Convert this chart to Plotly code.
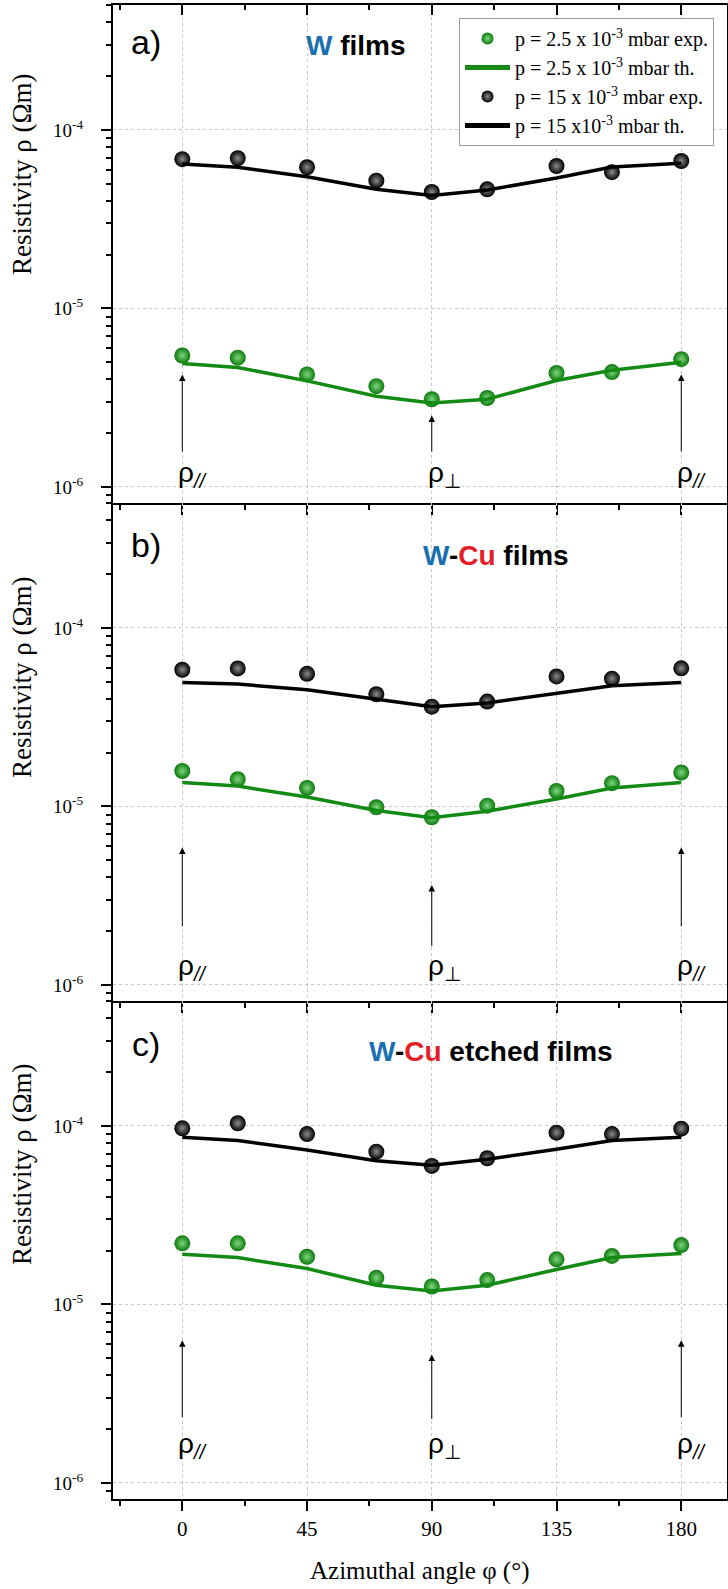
import plotly.graph_objects as go
from plotly.subplots import make_subplots

# ---------------- data ----------------
angles = [0, 20, 45, 70, 90, 110, 135, 155, 180]

a_exp_low  = [5.45e-6, 5.3e-6, 4.27e-6, 3.67e-6, 3.1e-6, 3.15e-6, 4.35e-6, 4.4e-6, 5.2e-6]
a_th_low   = [4.92e-6, 4.67e-6, 3.93e-6, 3.22e-6, 2.95e-6, 3.1e-6, 3.95e-6, 4.5e-6, 5.0e-6]
a_exp_high = [6.86e-5, 6.94e-5, 6.18e-5, 5.2e-5, 4.49e-5, 4.65e-5, 6.28e-5, 5.8e-5, 6.7e-5]
a_th_high  = [6.44e-5, 6.18e-5, 5.47e-5, 4.65e-5, 4.3e-5, 4.61e-5, 5.38e-5, 6.2e-5, 6.5e-5]

b_exp_low  = [1.58e-5, 1.42e-5, 1.27e-5, 9.9e-6, 8.7e-6, 1.01e-5, 1.22e-5, 1.35e-5, 1.55e-5]
b_th_low   = [1.36e-5, 1.30e-5, 1.13e-5, 9.5e-6, 8.65e-6, 9.4e-6, 1.10e-5, 1.27e-5, 1.36e-5]
b_exp_high = [5.83e-5, 5.93e-5, 5.53e-5, 4.25e-5, 3.62e-5, 3.87e-5, 5.35e-5, 5.2e-5, 5.94e-5]
b_th_high  = [4.95e-5, 4.85e-5, 4.5e-5, 4.0e-5, 3.62e-5, 3.8e-5, 4.3e-5, 4.75e-5, 4.95e-5]

c_exp_low  = [2.2e-5, 2.2e-5, 1.85e-5, 1.41e-5, 1.26e-5, 1.37e-5, 1.79e-5, 1.87e-5, 2.15e-5]
c_th_low   = [1.91e-5, 1.83e-5, 1.59e-5, 1.28e-5, 1.19e-5, 1.28e-5, 1.57e-5, 1.83e-5, 1.93e-5]
c_exp_high = [9.7e-5, 1.035e-4, 9.0e-5, 7.18e-5, 5.97e-5, 6.59e-5, 9.17e-5, 9.0e-5, 9.66e-5]
c_th_high  = [8.65e-5, 8.28e-5, 7.33e-5, 6.39e-5, 6.02e-5, 6.5e-5, 7.4e-5, 8.28e-5, 8.65e-5]

panels = [
    (a_exp_low, a_th_low, a_exp_high, a_th_high),
    (b_exp_low, b_th_low, b_exp_high, b_th_high),
    (c_exp_low, c_th_low, c_exp_high, c_th_high),
]
panel_letters = ["a)", "b)", "c)"]
panel_titles = [
    "<b><span style='color:#1a6fb0'>W</span> films</b>",
    "<b><span style='color:#1a6fb0'>W</span>-<span style='color:#e41e26'>Cu</span> films</b>",
    "<b><span style='color:#1a6fb0'>W</span>-<span style='color:#e41e26'>Cu</span> etched films</b>",
]
legend_names = [
    "p = 2.5 x 10<sup>-3</sup> mbar exp.",
    "p = 2.5 x 10<sup>-3</sup> mbar th.",
    "p = 15 x 10<sup>-3</sup> mbar exp.",
    "p = 15 x10<sup>-3</sup> mbar th.",
]
x_ticks = [0, 45, 90, 135, 180]
y_ticks = [1e-6, 1e-5, 1e-4, 1e-3]
y_ticktext = ["10<sup>-6</sup>", "10<sup>-5</sup>", "10<sup>-4</sup>", "10<sup>-3</sup>"]
arrow_angles = [0, 90, 180]
arrow_labels = ["ρ<sub><i>//</i></sub>", "ρ<sub>⊥</sub>", "ρ<sub><i>//</i></sub>"]
# (tip, tail) in log10 units per panel, for angles 0/180 and 90
arrow_par = [(-5.37, -5.81), (-5.23, -5.68), (-5.20, -5.64)]
arrow_perp = [(-5.60, -5.81), (-5.44, -5.79), (-5.28, -5.65)]
label_y = [-5.93, -5.90, -5.79]

# ---------------- figure ----------------
W, H = 728, 1589
L, R, T, B = 113, 1, 5, 90
PW, PH = W - L - R, H - T - B

def px_x(px):
    return (px - L) / PW

def px_y(py):
    return (H - B - py) / PH

GREEN = "#138a13"
serif = "Liberation Serif"
sans = "Liberation Sans"

fig = make_subplots(rows=3, cols=1, shared_xaxes=True, vertical_spacing=0)

for i, (el, tl, eh, th) in enumerate(panels):
    row = i + 1
    show = (i == 0)
    fig.add_trace(go.Scatter(x=angles, y=el, mode="markers", name=legend_names[0], showlegend=show,
                             marker=dict(color="#0c7a0c", size=16,
                                         gradient=dict(type="radial", color="#7fd67f"),
                                         line=dict(width=0))), row=row, col=1)
    fig.add_trace(go.Scatter(x=angles, y=tl, mode="lines", name=legend_names[1], showlegend=show,
                             line=dict(color=GREEN, width=3.5)), row=row, col=1)
    fig.add_trace(go.Scatter(x=angles, y=eh, mode="markers", name=legend_names[2], showlegend=show,
                             marker=dict(color="#000000", size=16,
                                         gradient=dict(type="radial", color="#8c8c8c"),
                                         line=dict(width=0))), row=row, col=1)
    fig.add_trace(go.Scatter(x=angles, y=th, mode="lines", name=legend_names[3], showlegend=show,
                             line=dict(color="black", width=3.5)), row=row, col=1)

# dummy trace for top tick axis of panel a
fig.add_trace(go.Scatter(x=[], y=[], xaxis="x4", yaxis="y", showlegend=False, hoverinfo="skip"))

xrange = [-25, 196.5]
yrange = [-6.09, -3.30]

minor_y = [k * 10.0 ** e for e in range(-7, -2) for k in range(2, 10)]

for i in range(3):
    xa = dict(range=xrange, tickvals=x_ticks, showgrid=True, gridcolor="#c8c8c8", griddash="dot",
              gridwidth=1, zeroline=False, showline=True, linecolor="black", linewidth=2,
              ticks="outside", ticklen=10, tickwidth=1.5, tickcolor="black",
              minor=dict(dtick=22.5, tick0=0, ticks="outside", ticklen=5, tickwidth=1.5, tickcolor="black"),
              mirror=(i == 0), showticklabels=(i == 2), automargin=False,
              tickfont=dict(family=serif, size=21, color="black"))
    ya = dict(type="log", range=yrange, tickvals=y_ticks, ticktext=y_ticktext,
              showgrid=True, gridcolor="#c8c8c8", griddash="dot", gridwidth=1,
              zeroline=False, showline=True, linecolor="black", linewidth=2,
              ticks="outside", ticklen=10, tickwidth=1.5, tickcolor="black",
              minor=dict(tickvals=minor_y, ticks="outside", ticklen=5, tickwidth=1.5, tickcolor="black"),
              mirror=True, automargin=False, ticklabelstandoff=14,
              tickfont=dict(family=serif, size=19, color="black"))
    fig.layout["xaxis" + ("" if i == 0 else str(i + 1))].update(xa)
    fig.layout["yaxis" + ("" if i == 0 else str(i + 1))].update(ya)

fig.update_layout(xaxis4=dict(overlaying="x", anchor="y", side="top", range=xrange, tickvals=x_ticks,
                              ticks="inside", ticklen=10, tickwidth=1.5, tickcolor="black",
                              minor=dict(dtick=22.5, tick0=0, ticks="inside", ticklen=5, tickwidth=1.5,
                                         tickcolor="black"),
                              showticklabels=False, showgrid=False, zeroline=False, showline=False,
                              automargin=False))

annotations = []
title_pos = [(356, 45), (496, 555), (491, 1051)]
letter_y = [42, 545, 1044]
ytitle_pos = [174, 677, 1164]
for i in range(3):
    xr = "x" if i == 0 else "x%d" % (i + 1)
    yr = "y" if i == 0 else "y%d" % (i + 1)
    annotations.append(dict(text=panel_letters[i], xref="paper", yref="paper",
                            x=px_x(146), y=px_y(letter_y[i]), xanchor="center", yanchor="middle",
                            showarrow=False, font=dict(family=sans, size=34, color="black")))
    annotations.append(dict(text=panel_titles[i], xref="paper", yref="paper",
                            x=px_x(title_pos[i][0]), y=px_y(title_pos[i][1]),
                            xanchor="center", yanchor="middle", showarrow=False,
                            font=dict(family=sans, size=28, color="black")))
    annotations.append(dict(text="Resistivity ρ (Ωm)", xref="paper", yref="paper",
                            x=px_x(22), y=px_y(ytitle_pos[i]), xanchor="center", yanchor="middle",
                            textangle=-90, showarrow=False,
                            font=dict(family=serif, size=27, color="black")))
    for j, ang in enumerate(arrow_angles):
        tip, tail = arrow_perp[i] if ang == 90 else arrow_par[i]
        annotations.append(dict(text="", x=ang, y=tip, ax=ang, ay=tail, xref=xr, yref=yr,
                                axref=xr, ayref=yr, showarrow=True, arrowhead=2, arrowsize=1.3,
                                arrowwidth=1, arrowcolor="black", standoff=0, startstandoff=0))
        annotations.append(dict(text=arrow_labels[j], x=ang, y=label_y[i], xref=xr, yref=yr,
                                xanchor="left", yanchor="middle", xshift=-6, showarrow=False,
                                font=dict(family=sans, size=28, color="black")))

annotations.append(dict(text="Azimuthal angle φ (°)", xref="paper", yref="paper",
                        x=px_x(420), y=px_y(1571), xanchor="center", yanchor="middle",
                        showarrow=False, font=dict(family=serif, size=25, color="black")))

fig.update_layout(
    width=W, height=H,
    margin=dict(l=L, r=R, t=T, b=B, autoexpand=False),
    plot_bgcolor="white", paper_bgcolor="white",
    annotations=annotations,
    legend=dict(x=px_x(459), y=px_y(18), xanchor="left", yanchor="top",
                bgcolor="white", bordercolor="#9a9a9a", borderwidth=1,
                font=dict(family=serif, size=20, color="black"),
                itemwidth=45, itemsizing="constant", tracegroupgap=0),
    showlegend=True,
)

fig.write_html("out.html", config={"displayModeBar": False},
               post_script="document.body.style.margin='0';document.body.style.overflow='hidden';")
